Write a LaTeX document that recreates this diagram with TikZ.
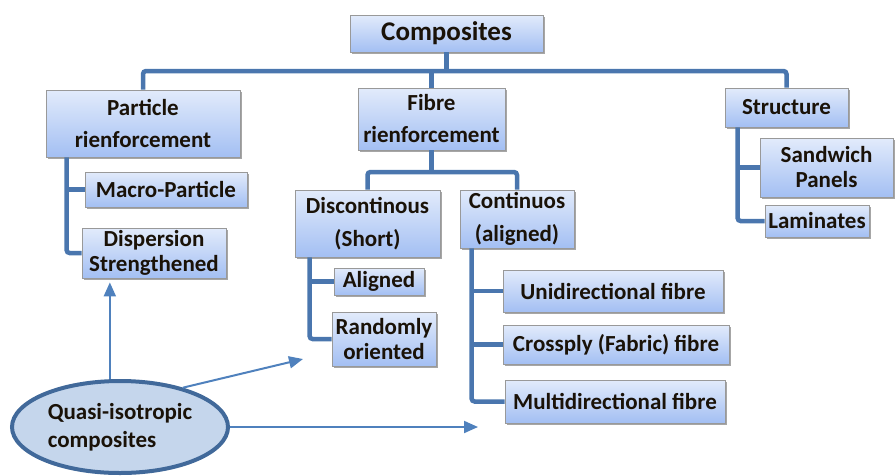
\documentclass[tikz,border=0pt]{standalone}
\usepackage{fontspec}
\setmainfont{Carlito}
\usepackage{xcolor}
\usetikzlibrary{arrows.meta, shadows, shapes.geometric, calc}

\definecolor{treeblue}{HTML}{4A76AE}
\definecolor{arrowblue}{HTML}{4F81BD}
\definecolor{boxtop}{HTML}{E2EBFB}
\definecolor{boxbottom}{HTML}{A3BFF3}
\definecolor{ovalfill}{HTML}{C5D6EC}
\definecolor{ovalline}{HTML}{41699A}
\definecolor{inkdark}{HTML}{1A1208}

\tikzset{
  catbox/.style={draw=gray!80, line width=0.8pt, top color=boxtop, bottom color=boxbottom,
    inner sep=0pt, align=center, text=inkdark, font=\bfseries\fontsize{23}{25}\selectfont,
    drop shadow={shadow xshift=2pt, shadow yshift=-2pt, opacity=0.35, fill=black}},
  tree/.style={draw=treeblue, line width=4.5pt, rounded corners=3pt},
  arr/.style={draw=arrowblue, line width=2pt, -{Triangle[length=14pt, width=12pt]}}
}

\begin{document}
\begin{tikzpicture}[x=1pt, y=-1pt]
    \useasboundingbox (0,0) rectangle (896,475);

    % boxes
    \node[catbox, minimum width=193pt, minimum height=37pt, font=\bfseries\fontsize{27}{30}\selectfont] (comp) at (446.5,33.5) {Composites};
    \node[catbox, minimum width=194pt, minimum height=67pt] (part) at (143,123.5) {Particle\\[7pt]rienforcement};
    \node[catbox, minimum width=147pt, minimum height=62pt] (fibre) at (431.5,119) {Fibre\\[7pt]rienforcement};
    \node[catbox, minimum width=123pt, minimum height=39pt] (struct) at (786.5,107.5) {Structure};

    \node[catbox, minimum width=162pt, minimum height=35pt] (macro) at (166,189.5) {Macro-Particle};
    \node[catbox, minimum width=144pt, minimum height=50pt] (disp) at (154,253) {Dispersion\\Strengthened};

    \node[catbox, minimum width=145pt, minimum height=67pt] (disc) at (367.5,223.5) {Discontinous\\[8pt](Short)};
    \node[catbox, minimum width=114pt, minimum height=58pt] (cont) at (517,219) {Continuos\\[8pt](aligned)};
    \node[catbox, minimum width=90pt, minimum height=27pt] (align) at (379,281.5) {Aligned};
    \node[catbox, minimum width=104pt, minimum height=54pt] (rand) at (384,339) {Randomly\\oriented};

    \node[catbox, minimum width=220pt, minimum height=42pt] (uni) at (613,291) {Unidirectional fibre};
    \node[catbox, minimum width=226pt, minimum height=39pt] (cross) at (616,344.5) {Crossply (Fabric) fibre};
    \node[catbox, minimum width=220pt, minimum height=43pt] (multi) at (615,401.5) {Multidirectional fibre};

    \node[catbox, minimum width=133pt, minimum height=59pt] (sand) at (826.5,167.5) {Sandwich\\Panels};
    \node[catbox, minimum width=104pt, minimum height=32pt] (lam) at (817,221) {Laminates};

    \node[ellipse, draw=ovalline, line width=4pt, fill=ovalfill, minimum width=216pt, minimum height=92pt,
      inner sep=0pt, align=left, text=inkdark, font=\bfseries\fontsize{23}{28}\selectfont] (quasi) at (120,427) {Quasi-isotropic\\composites};

    % tree lines
    \coordinate (bus) at (0,71);
    \coordinate (fbus) at (0,172);
    \draw[tree] (comp.south) -- (comp.south |- bus);
    \draw[tree] (part.north) |- (struct.north |- bus) -- (struct.north);
    \draw[tree] (fibre.north) -- (fibre.north |- bus);

    \draw[tree] ([xshift=21pt]part.south west) |- (disp.west);
    \draw[tree] ([xshift=21pt]part.south west |- macro.west) -- (macro.west);

    \draw[tree] (fibre.south) -- (fibre.south |- fbus);
    \draw[tree] (disc.north) |- (cont.north |- fbus) -- (cont.north);

    \draw[tree] ([xshift=15pt]disc.south west) |- (rand.west);
    \draw[tree] ([xshift=15pt]disc.south west |- align.west) -- (align.west);

    \draw[tree] ([xshift=12pt]cont.south west) |- (multi.west);
    \draw[tree] ([xshift=12pt]cont.south west |- uni.west) -- (uni.west);
    \draw[tree] ([xshift=12pt]cont.south west |- cross.west) -- (cross.west);

    \draw[tree] ([xshift=13pt]struct.south west) |- (lam.west);
    \draw[tree] ([xshift=13pt]struct.south west |- sand.west) -- (sand.west);

    % arrows from the oval
    \coordinate (tipD) at (303,359);
    \coordinate (tipC) at (478,427);
    \draw[arr] (quasi.102) -- ([yshift=-4pt]quasi.102 |- disp.south);
    \draw[arr] (quasi.32) -- (tipD);
    \draw[arr] (quasi.east) -- (tipC);
\end{tikzpicture}
\end{document}
